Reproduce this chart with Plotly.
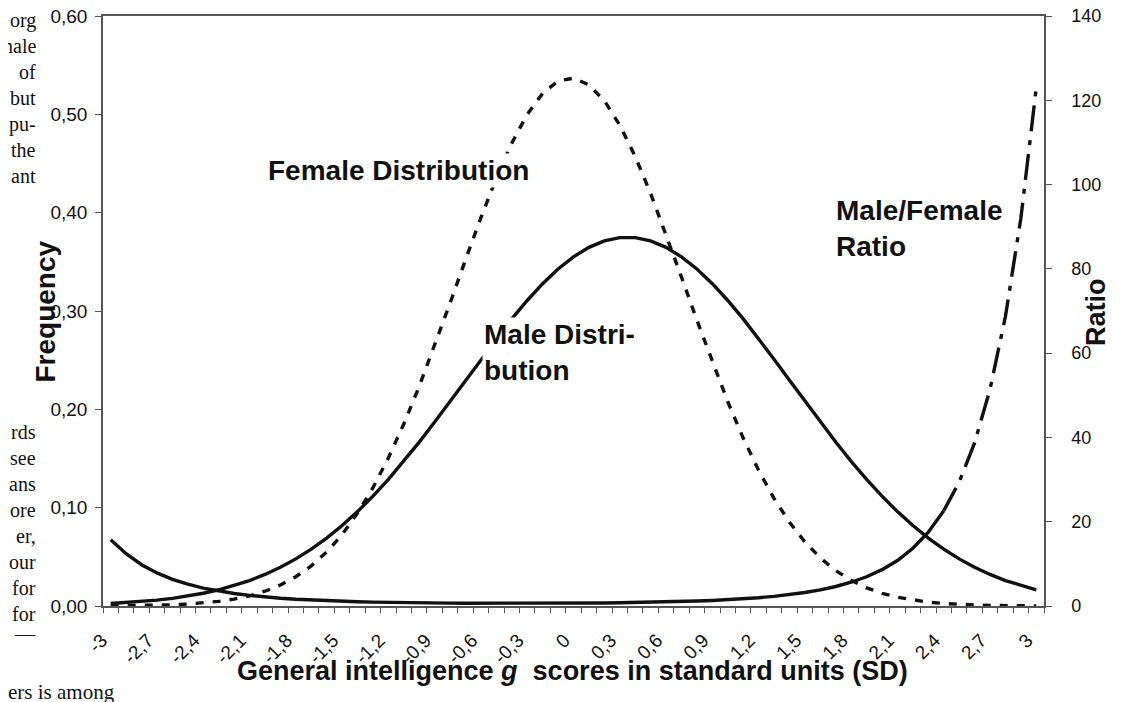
import plotly.graph_objects as go

# ---------------- data ----------------
g_scores = [-3.0, -2.9, -2.8, -2.7, -2.6, -2.5, -2.4, -2.3, -2.2, -2.1,
            -2.0, -1.9, -1.8, -1.7, -1.6, -1.5, -1.4, -1.3, -1.2, -1.1,
            -1.0, -0.9, -0.8, -0.7, -0.6, -0.5, -0.4, -0.3, -0.2, -0.1,
            0.0, 0.1, 0.2, 0.3, 0.4, 0.5, 0.6, 0.7, 0.8, 0.9,
            1.0, 1.1, 1.2, 1.3, 1.4, 1.5, 1.6, 1.7, 1.8, 1.9,
            2.0, 2.1, 2.2, 2.3, 2.4, 2.5, 2.6, 2.7, 2.8, 2.9, 3.0]

male_freq = [0.0025, 0.0034, 0.0045, 0.0060, 0.0078, 0.0101, 0.0130, 0.0165, 0.0208, 0.0259,
             0.0321, 0.0394, 0.0479, 0.0578, 0.0691, 0.0818, 0.0960, 0.1117, 0.1287, 0.1471,
             0.1667, 0.1871, 0.2082, 0.2296, 0.2510, 0.2719, 0.2920, 0.3107, 0.3278, 0.3427,
             0.3551, 0.3647, 0.3713, 0.3746, 0.3746, 0.3713, 0.3647, 0.3551, 0.3427, 0.3278,
             0.3107, 0.2920, 0.2719, 0.2510, 0.2296, 0.2082, 0.1871, 0.1667, 0.1471, 0.1287,
             0.1117, 0.0960, 0.0818, 0.0691, 0.0578, 0.0479, 0.0394, 0.0321, 0.0259, 0.0208, 0.0165]

female_freq = [0.0002, 0.0003, 0.0005, 0.0008, 0.0012, 0.0020, 0.0031, 0.0047, 0.0070, 0.0103,
               0.0150, 0.0213, 0.0298, 0.0408, 0.0549, 0.0727, 0.0944, 0.1203, 0.1506, 0.1851,
               0.2234, 0.2648, 0.3081, 0.3521, 0.3950, 0.4351, 0.4707, 0.4999, 0.5213, 0.5339,
               0.5368, 0.5300, 0.5138, 0.4890, 0.4571, 0.4195, 0.3781, 0.3345, 0.2906, 0.2479,
               0.2077, 0.1708, 0.1380, 0.1094, 0.0852, 0.0651, 0.0489, 0.0360, 0.0261, 0.0185,
               0.0129, 0.0089, 0.0060, 0.0039, 0.0026, 0.0016, 0.0010, 0.0006, 0.0004, 0.0002, 0.0001]

mf_ratio = [15.7, 12.4, 9.8, 7.85, 6.34, 5.17, 4.25, 3.53, 2.97, 2.51,
            2.14, 1.85, 1.61, 1.42, 1.26, 1.13, 1.02, 0.93, 0.85, 0.79,
            0.75, 0.71, 0.68, 0.65, 0.64, 0.62, 0.62, 0.62, 0.63, 0.64,
            0.66, 0.69, 0.72, 0.77, 0.82, 0.89, 0.96, 1.06, 1.18, 1.32,
            1.50, 1.71, 1.97, 2.29, 2.70, 3.20, 3.83, 4.63, 5.64, 6.94,
            8.63, 10.8, 13.7, 17.5, 22.6, 29.4, 38.7, 51.4, 68.7, 92.0, 123.0]

x_tick_vals = [-3.0, -2.7, -2.4, -2.1, -1.8, -1.5, -1.2, -0.9, -0.6, -0.3, 0.0,
               0.3, 0.6, 0.9, 1.2, 1.5, 1.8, 2.1, 2.4, 2.7, 3.0]
x_tick_text = ["-3", "-2,7", "-2,4", "-2,1", "-1,8", "-1,5", "-1,2", "-0,9", "-0,6", "-0,3", "0",
               "0,3", "0,6", "0,9", "1,2", "1,5", "1,8", "2,1", "2,4", "2,7", "3"]

split_idx = 54  # ratio drawn solid up to here, dash-dot afterwards

# ---------------- layout geometry (screen pixels) ----------------
OFF = 8                      # default page body margin
W, H = 1142 - OFF, 702 - OFF
L, R, T, B = 103, 1044, 16, 606   # plot area on screen
PW, PH = R - L, B - T


def px(x):
    return (x - L) / PW


def py(y):
    return (B - y) / PH


INK = "#111111"
FONT = "Liberation Sans, Arial, sans-serif"
SERIF = "Liberation Serif, Times New Roman, serif"

fig = go.Figure()

fig.add_trace(go.Scatter(x=g_scores, y=female_freq, mode="lines", name="Female Distribution",
                         line=dict(color=INK, width=3.4, dash="8px,9px")))
fig.add_trace(go.Scatter(x=g_scores, y=male_freq, mode="lines", name="Male Distribution",
                         line=dict(color=INK, width=3.4)))
fig.add_trace(go.Scatter(x=g_scores[:split_idx + 1], y=mf_ratio[:split_idx + 1], mode="lines",
                         name="Male/Female Ratio", yaxis="y2",
                         line=dict(color=INK, width=3.4)))
fig.add_trace(go.Scatter(x=g_scores[split_idx:], y=mf_ratio[split_idx:], mode="lines",
                         name="Male/Female Ratio", yaxis="y2", showlegend=False,
                         line=dict(color=INK, width=3.4, dash="26px,9px,5px,9px")))

axis_line = "#555555"

fig.update_layout(
    width=W, height=H,
    margin=dict(l=L - OFF, r=W - (R - OFF), t=T - OFF, b=H - (B - OFF), pad=0, autoexpand=False),
    paper_bgcolor="white", plot_bgcolor="white",
    showlegend=False,
    separators=", ",
    font=dict(family=FONT, color=INK, size=18),
    xaxis=dict(
        range=[-3.05, 3.05], tickmode="array", tickvals=x_tick_vals, ticktext=x_tick_text,
        tickangle=-45, ticks="", showgrid=False, zeroline=False, automargin=False,
        showline=True, linecolor=axis_line, linewidth=1.5, mirror=True,
        ticklabelstandoff=14, ticklabelshift=-9, ticklabeloverflow="allow",
        tickfont=dict(size=19, family=FONT),
        minor=dict(tick0=-3.05, dtick=0.1, ticks="outside", ticklen=5, tickwidth=1,
                   tickcolor=axis_line, showgrid=False),
    ),
    yaxis=dict(
        range=[0, 0.6], dtick=0.1, tickformat=".2f", ticks="outside", ticklen=6,
        tickcolor=axis_line, showgrid=False, zeroline=False, automargin=False,
        showline=True, linecolor=axis_line, linewidth=1.5, ticklabelstandoff=4,
        ticklabeloverflow="allow",
        tickfont=dict(size=19, family=FONT),
    ),
    yaxis2=dict(
        range=[0, 140], dtick=20, overlaying="y", side="right", ticks="outside", ticklen=6,
        tickcolor=axis_line, showgrid=False, zeroline=False, automargin=False,
        showline=True, linecolor=axis_line, linewidth=1.5, ticklabelstandoff=16,
        ticklabeloverflow="allow",
        tickfont=dict(size=18, family=FONT),
    ),
)

ann = []
label_font = dict(family=FONT, size=28, color=INK)

# axis titles
ann.append(dict(text="<b>Frequency</b>", x=px(27), y=py(312), xref="paper", yref="paper",
                textangle=-90, showarrow=False, font=dict(family=FONT, size=28, color=INK)))
ann.append(dict(text="<b>Ratio</b>", x=px(1113), y=py(312), xref="paper", yref="paper",
                textangle=-90, showarrow=False, font=dict(family=FONT, size=27, color=INK)))
ann.append(dict(text="<b>General intelligence <i>g</i>  scores in standard units (SD)</b>",
                x=px(572), y=py(688), xref="paper", yref="paper", showarrow=False,
                font=dict(family=FONT, size=27, color=INK)))

# curve labels (opaque boxes hide the curves behind them, as in the original)
ann.append(dict(text="<b>Female Distribution</b>", x=px(266), y=py(153), xref="paper", yref="paper",
                xanchor="left", showarrow=False, font=label_font, bgcolor="white"))
ann.append(dict(text="<b>Male Distri-<br>bution</b>", x=px(482), y=py(352), xref="paper", yref="paper",
                xanchor="left", align="left", showarrow=False, font=label_font, bgcolor="white"))
ann.append(dict(text="<b>Male/Female<br>Ratio</b>", x=px(834), y=py(229), xref="paper", yref="paper",
                xanchor="left", align="left", showarrow=False, font=label_font))

# stray page text from the scanned article (left margin)
page_words = [("org", 20), ("nale", 46), ("of", 72), ("but", 98), ("pu-", 124), ("the", 150),
              ("ant", 176), ("rds", 432), ("see", 458), ("ans", 484), ("ore", 510), ("er,", 536),
              ("our", 562), ("for", 588), ("for", 614), ("—", 634)]
for w, yy in page_words:
    ann.append(dict(text=w, x=px(38), y=py(yy), xref="paper", yref="paper", xanchor="right",
                    yanchor="middle", showarrow=False, font=dict(family=SERIF, size=20, color=INK)))
ann.append(dict(text="ers is among", x=px(OFF - 2), y=py(692), xref="paper", yref="paper",
                xanchor="left", yanchor="middle", showarrow=False,
                font=dict(family=SERIF, size=21, color=INK)))

fig.update_layout(annotations=ann)

fig.write_html("out.html")
